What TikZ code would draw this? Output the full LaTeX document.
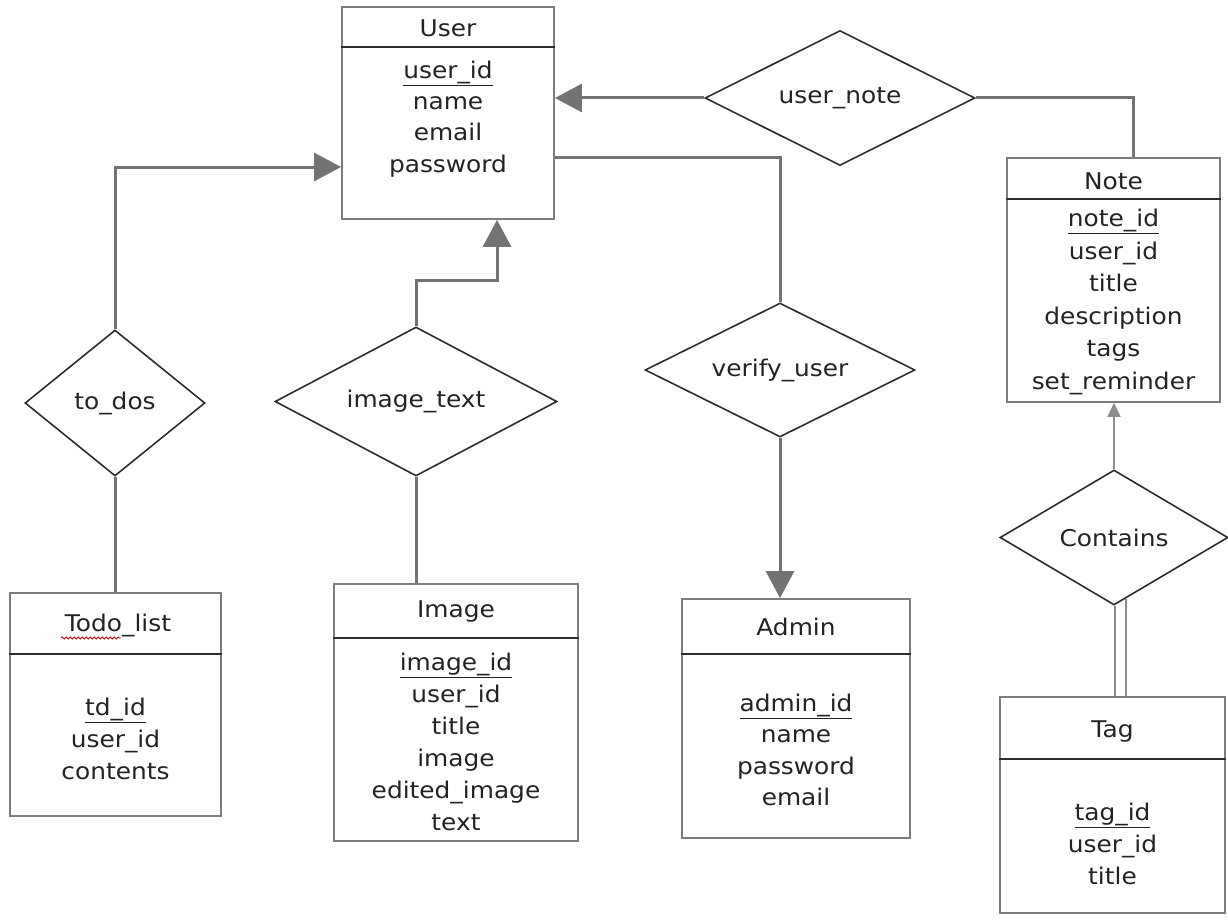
\documentclass[tikz,border=0pt]{standalone}
\usepackage{fontspec}
\setmainfont{DejaVu Sans}[FakeStretch=1.08]
\usetikzlibrary{shapes.geometric,arrows.meta,decorations.pathmorphing}
\definecolor{linegray}{RGB}{115,115,115}
\definecolor{boxgray}{RGB}{125,125,125}
\definecolor{dkline}{RGB}{45,45,45}
\definecolor{txt}{RGB}{35,35,35}
\definecolor{lightgray2}{RGB}{140,140,140}
\tikzset{
  entity/.style={rectangle, draw=boxgray, line width=1.8pt, fill=white, inner sep=0pt},
  sepline/.style={draw=dkline, line width=1.6pt},
  rel/.style={diamond, shape aspect=2, draw=dkline, line width=1.6pt, fill=white, inner sep=0pt,
              font=\fontsize{23}{28}\selectfont, text=txt},
  ttl/.style={font=\fontsize{23}{28}\selectfont, text=txt, inner sep=0pt},
  attrs/.style={font=\fontsize{23}{32}\selectfont, text=txt, align=center, inner sep=0pt},
  conn/.style={draw=linegray, line width=3pt},
  bigtip/.style={-{Triangle[length=27pt,width=28pt]}},
  thinconn/.style={draw=lightgray2, line width=2pt},
  smalltip/.style={-{Triangle[length=14pt,width=13pt]}},
}
\begin{document}
\begin{tikzpicture}[x=1pt,y=-1pt]
\useasboundingbox[fill=white] (0,0) rectangle (1228,923);

% ---------- entities ----------
\node[entity, minimum width=212pt, minimum height=212pt] (user) at (448,113) {};
\draw[sepline] ([yshift=-41pt]user.north west) -- ([yshift=-41pt]user.north east);
\node[ttl] (userT) at (448,28) {User};
\node[attrs, font=\fontsize{23}{31.3}\selectfont] (userA) at (448,119) {\underline{user\_id}\\name\\email\\password};

\node[entity, minimum width=213pt, minimum height=244pt] (note) at (1113.5,280) {};
\draw[sepline] ([yshift=-42pt]note.north west) -- ([yshift=-42pt]note.north east);
\node[ttl] (noteT) at (1113.5,181) {Note};
\node[attrs, font=\fontsize{23}{32.6}\selectfont] (noteA) at (1113.5,302) {\underline{note\_id}\\user\_id\\title\\description\\tags\\set\_reminder};

\node[entity, minimum width=211pt, minimum height=223pt] (todo) at (115.5,704.5) {};
\draw[sepline] ([yshift=-62pt]todo.north west) -- ([yshift=-62pt]todo.north east);
\node[ttl] (todoT) at (118,625) {Todo\_list};
\node[attrs] (todoA) at (115.5,739) {\underline{td\_id}\\user\_id\\contents};
\draw[red!80!black, line width=0.8pt, decorate, decoration={snake, amplitude=1.1pt, segment length=4pt}]
  ([xshift=-57pt,yshift=-13pt]todoT.center) -- ([xshift=3pt,yshift=-13pt]todoT.center);

\node[entity, minimum width=244pt, minimum height=257pt] (image) at (456,712.5) {};
\draw[sepline] ([yshift=-55pt]image.north west) -- ([yshift=-55pt]image.north east);
\node[ttl] (imageT) at (456,612) {Image};
\node[attrs] (imageA) at (456,742) {\underline{image\_id}\\user\_id\\title\\image\\edited\_image\\text};

\node[entity, minimum width=228pt, minimum height=239pt] (admin) at (796,718.5) {};
\draw[sepline] ([yshift=-56pt]admin.north west) -- ([yshift=-56pt]admin.north east);
\node[ttl] (adminT) at (796,627) {Admin};
\node[attrs, font=\fontsize{23}{31.3}\selectfont] (adminA) at (796,750) {\underline{admin\_id}\\name\\password\\email};

\node[entity, minimum width=225pt, minimum height=216pt] (tag) at (1112.5,805) {};
\draw[sepline] ([yshift=-63pt]tag.north west) -- ([yshift=-63pt]tag.north east);
\node[ttl] (tagT) at (1112.5,731) {Tag};
\node[attrs] (tagA) at (1112.5,844) {\underline{tag\_id}\\user\_id\\title};

% ---------- relationships ----------
\node[rel, minimum width=270pt, minimum height=135pt] (un) at (840,98) {user\_note};
\node[rel, minimum width=180pt, minimum height=146pt] (td) at (115,403) {to\_dos};
\node[rel, minimum width=282pt, minimum height=149pt] (it) at (416,401.5) {image\_text};
\node[rel, minimum width=270pt, minimum height=134pt] (vu) at (780,370) {verify\_user};
\node[rel, minimum width=228pt, minimum height=135pt] (ct) at (1114,537.5) {Contains};

% ---------- connectors ----------
\draw[conn, bigtip] (un.west) -- (un.west -| user.east);
\draw[conn] (un.east) -| ([xshift=20pt]note.north);
\draw[conn, bigtip] (td.north) |- ([yshift=-54pt]user.west);
\draw[conn] (td.south) -- (td.south |- todo.north);
\draw[conn, bigtip] (it.north) -- ++(0,-46) -| ([xshift=49pt]user.south);
\draw[conn] (it.south) -- (it.south |- image.north);
\draw[conn] ([yshift=-44pt]user.east) -| (vu.north);
\draw[conn, bigtip] (vu.south) -- (vu.south |- admin.north);
\draw[thinconn, smalltip] (ct.north) -- (ct.north |- note.south);
\draw[thinconn] ([xshift=1pt]ct.south) -- ([xshift=1pt]ct.south |- tag.north);
\draw[thinconn] ([xshift=12pt,yshift=7pt]ct.south) -- ([xshift=12pt]ct.south |- tag.north);
\end{tikzpicture}
\end{document}
